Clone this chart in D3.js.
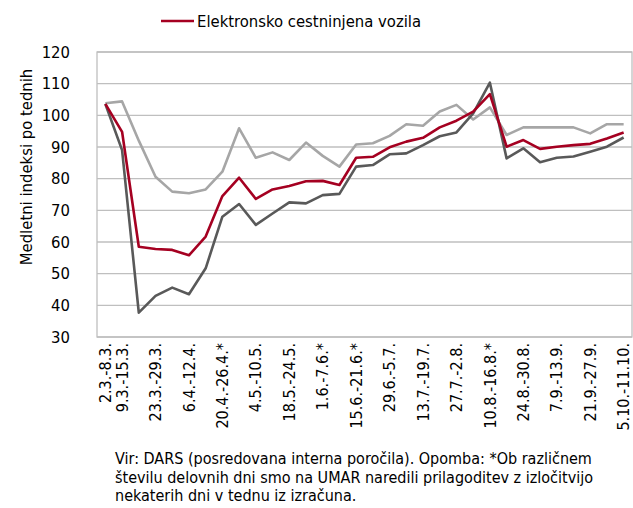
<!DOCTYPE html>
<html><head><meta charset="utf-8">
<script src="https://cdn.jsdelivr.net/npm/d3@7"></script>
<style>body{margin:0;background:#fff}svg{display:block}</style>
</head><body><svg id="c" width="633" height="508"></svg>
<script>
const weeks = ["2.3.-8.3.","9.3.-15.3.","16.3.-22.3.","23.3.-29.3.","30.3.-5.4.","6.4.-12.4.","13.4.-19.4.","20.4.-26.4.*","27.4.-3.5.","4.5.-10.5.","11.5.-17.5.","18.5.-24.5.","25.5.-31.5.","1.6.-7.6.*","8.6.-14.6.","15.6.-21.6.*","22.6.-28.6.","29.6.-5.7.","6.7.-12.7.","13.7.-19.7.","20.7.-26.7.","27.7.-2.8.","3.8.-9.8.","10.8.-16.8.*","17.8.-23.8.","24.8.-30.8.","31.8.-6.9.","7.9.-13.9.","14.9.-20.9.","21.9.-27.9.","28.9.-4.10.","5.10.-11.10."];
const shownLabels = [0,1,3,5,7,9,11,13,15,17,19,21,23,25,27,29,31];
const yTicks = [30,40,50,60,70,80,90,100,110,120];
const seriesRed = [103.6,94.8,58.5,57.8,57.5,55.8,61.7,74.5,80.3,73.6,76.6,77.7,79.2,79.3,78.0,86.6,86.9,89.9,91.7,92.9,96.2,98.3,101.2,106.7,90.1,92.2,89.4,90.1,90.6,91.0,92.7,94.6];
const seriesDark = [103.6,89.0,37.7,43.0,45.6,43.5,51.7,68.0,72.0,65.4,69.0,72.5,72.2,74.8,75.2,83.8,84.3,87.7,88.0,90.6,93.4,94.6,100.6,110.3,86.4,89.6,85.2,86.6,87.0,88.5,90.1,93.0];
const seriesLight = [103.8,104.4,92.0,80.6,75.9,75.4,76.6,82.2,95.9,86.6,88.3,85.9,91.4,87.2,83.8,90.8,91.2,93.5,97.2,96.7,101.2,103.3,98.7,102.5,93.8,96.2,96.2,96.2,96.2,94.3,97.2,97.2];
const legendLabel = "Elektronsko cestninjena vozila";
const yTitle = "Medletni indeksi po tednih";
const note = ["Vir: DARS (posredovana interna poročila). Opomba: *Ob različnem","številu delovnih dni smo na UMAR naredili prilagoditev z izločitvijo","nekaterih dni v tednu iz izračuna."];

const font = "'DejaVu Sans Condensed','Liberation Sans Narrow',sans-serif";
const svg = d3.select("#c");
const L=97, R=632, T=52, B=337;
const x = d3.scaleBand().domain(weeks).range([L,R]);
const cx = d => x(d)+x.bandwidth()/2;
const y = d3.scaleLinear().domain([30,120]).range([B,T]);

// grid
svg.append("g").selectAll("line").data(yTicks).join("line")
  .attr("x1",L).attr("x2",R).attr("y1",d=>y(d)).attr("y2",d=>y(d))
  .attr("stroke","#bfbfbf").attr("stroke-width",1.3);
svg.append("rect").attr("x",L).attr("y",T).attr("width",R-L).attr("height",B-T)
  .attr("fill","none").attr("stroke","#bfbfbf").attr("stroke-width",1.3);

// y axis
const ya = svg.append("g").attr("transform",`translate(${L},0)`)
  .call(d3.axisLeft(y).tickValues(yTicks).tickSize(0).tickPadding(27));
ya.select(".domain").remove();
ya.selectAll("text").attr("font-family",font).attr("font-size",16.5).attr("fill","#000");

// x axis
const xa = svg.append("g").attr("transform",`translate(0,${B})`)
  .call(d3.axisBottom(x).tickValues(shownLabels.map(i=>weeks[i])).tickSize(0));
xa.select(".domain").remove();
xa.selectAll("text").attr("font-family",font).attr("font-size",16).attr("fill","#000")
  .attr("transform","rotate(-90)").attr("text-anchor","end")
  .attr("x",-6).attr("y",0).attr("dy","0.35em");

// lines
const line = d3.line().x((d,i)=>cx(weeks[i])).y(d=>y(d));
[[seriesLight,"#a6a6a6"],[seriesDark,"#595959"],[seriesRed,"#a50021"]].forEach(([s,c])=>{
  svg.append("path").datum(s).attr("d",line).attr("fill","none")
    .attr("stroke",c).attr("stroke-width",2.6).attr("stroke-linejoin","round");
});

// legend
svg.append("line").attr("x1",161).attr("x2",194).attr("y1",21).attr("y2",21)
  .attr("stroke","#a50021").attr("stroke-width",2.6);
svg.append("text").attr("x",197).attr("y",27).attr("font-family",font).attr("font-size",16.5)
  .text(legendLabel);

// y title
svg.append("text").attr("transform",`translate(32,167) rotate(-90)`)
  .attr("text-anchor","middle").attr("font-family",font).attr("font-size",16.5).text(yTitle);

// note
svg.append("g").selectAll("text").data(note).join("text")
  .attr("x",115).attr("y",(d,i)=>464+i*18.5).attr("font-family",font).attr("font-size",16)
  .text(d=>d);
</script></body></html>
